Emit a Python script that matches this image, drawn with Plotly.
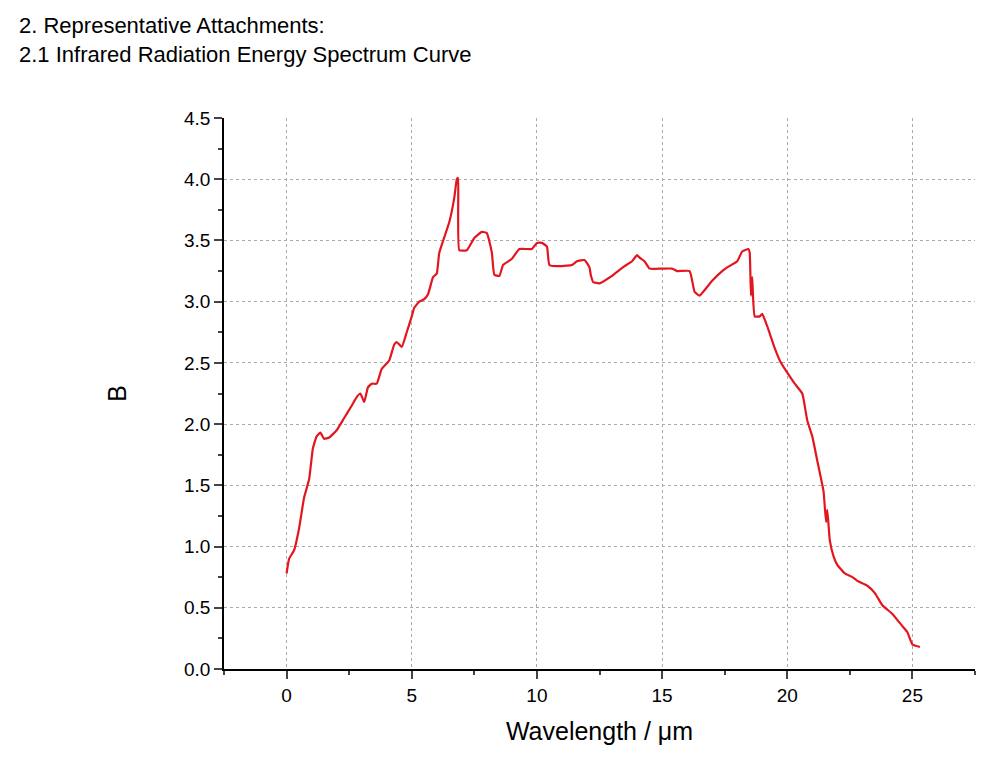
import plotly.graph_objects as go

wavelength = [0, 0.1, 0.3, 0.5, 0.7, 0.9, 1.05, 1.2, 1.35, 1.5, 1.7, 2.0, 2.3, 2.6, 2.8, 2.95, 3.1, 3.25,
              3.4, 3.6, 3.8, 4.1, 4.3, 4.4, 4.6, 4.8, 5.0, 5.1, 5.3, 5.5, 5.65, 5.85, 6.0, 6.1, 6.5, 6.7,
              6.8, 6.85, 6.9, 7.2, 7.5, 7.8, 8.0, 8.2, 8.3, 8.5, 8.65, 9.0, 9.3, 9.8, 10.0, 10.2, 10.4,
              10.5, 11.0, 11.4, 11.6, 11.9, 12.1, 12.15, 12.25, 12.5, 13.0, 13.3, 13.5, 13.8, 14.0, 14.1,
              14.3, 14.5, 15.0, 15.4, 15.6, 16.1, 16.3, 16.5, 16.8, 17.0, 17.4, 17.6, 18.0, 18.2, 18.45,
              18.5, 18.55, 18.6, 18.7, 18.9, 19.0, 19.2, 19.5, 19.7, 20.0, 20.3, 20.6, 20.8, 21.0, 21.2,
              21.45, 21.55, 21.6, 21.7, 21.85, 22.0, 22.3, 22.6, 22.8, 23.2, 23.5, 23.8, 24.2, 24.6,
              24.8, 25.0, 25.3]
energy = [0.78, 0.9, 0.97, 1.15, 1.4, 1.55, 1.8, 1.9, 1.93, 1.88, 1.89, 1.95, 2.05, 2.15, 2.22, 2.25, 2.18,
          2.3, 2.33, 2.33, 2.45, 2.52, 2.65, 2.67, 2.63, 2.75, 2.88, 2.95, 3.0, 3.02, 3.06, 3.2, 3.23, 3.4,
          3.65, 3.85, 4.0, 4.01, 3.42, 3.42, 3.52, 3.57, 3.56, 3.4, 3.22, 3.21, 3.3, 3.35, 3.43, 3.43,
          3.48, 3.48, 3.45, 3.3, 3.29, 3.3, 3.33, 3.34, 3.28, 3.22, 3.16, 3.15, 3.21, 3.26, 3.29, 3.33,
          3.38, 3.36, 3.33, 3.27, 3.27, 3.27, 3.25, 3.25, 3.08, 3.05, 3.12, 3.17, 3.25, 3.28, 3.33, 3.41,
          3.43, 3.4, 3.05, 3.2, 2.88, 2.88, 2.9, 2.8, 2.62, 2.52, 2.42, 2.33, 2.25, 2.03, 1.9, 1.7, 1.45,
          1.2, 1.3, 1.05, 0.92, 0.85, 0.78, 0.75, 0.72, 0.68, 0.62, 0.52, 0.45, 0.35, 0.3, 0.2, 0.18]

fig = go.Figure(go.Scatter(x=wavelength, y=energy, mode="lines", line_shape="spline",
                           line=dict(color="#e3161f", width=2.2, smoothing=0.4)))

axis_style = dict(showline=True, linecolor="black", linewidth=1.5, ticks="outside", ticklen=8,
                  tickwidth=1.5, showgrid=True, gridcolor="#aaaaaa", griddash="dot", gridwidth=1,
                  zeroline=False, tickfont=dict(size=19, color="black"), mirror=False, automargin=False)

fig.update_layout(
    width=1000, height=761, template="plotly_white", showlegend=False,
    font=dict(family="Arial, Liberation Sans, sans-serif", color="black"),
    margin=dict(l=216, r=33, t=110, b=100),
    xaxis=dict(range=[-2.5, 27.5], dtick=5, tick0=0,
               title=dict(text="Wavelength / μm", font=dict(size=25), standoff=18),
               minor=dict(ticks="outside", ticklen=4, dtick=2.5, tick0=0, showgrid=False), **axis_style),
    yaxis=dict(range=[0, 4.5], dtick=0.5, tickformat=".1f",
               title=dict(text="B", font=dict(size=25), standoff=50),
               minor=dict(ticks="outside", ticklen=4, dtick=0.25, showgrid=False), **axis_style),
    annotations=[dict(text="2. Representative Attachments:<br>2.1 Infrared Radiation Energy Spectrum Curve",
                      xref="paper", yref="paper", x=-0.275, y=1.195, xanchor="left", yanchor="top",
                      align="left", showarrow=False, font=dict(size=22, color="black"))],
)

fig.write_html("out.html")
